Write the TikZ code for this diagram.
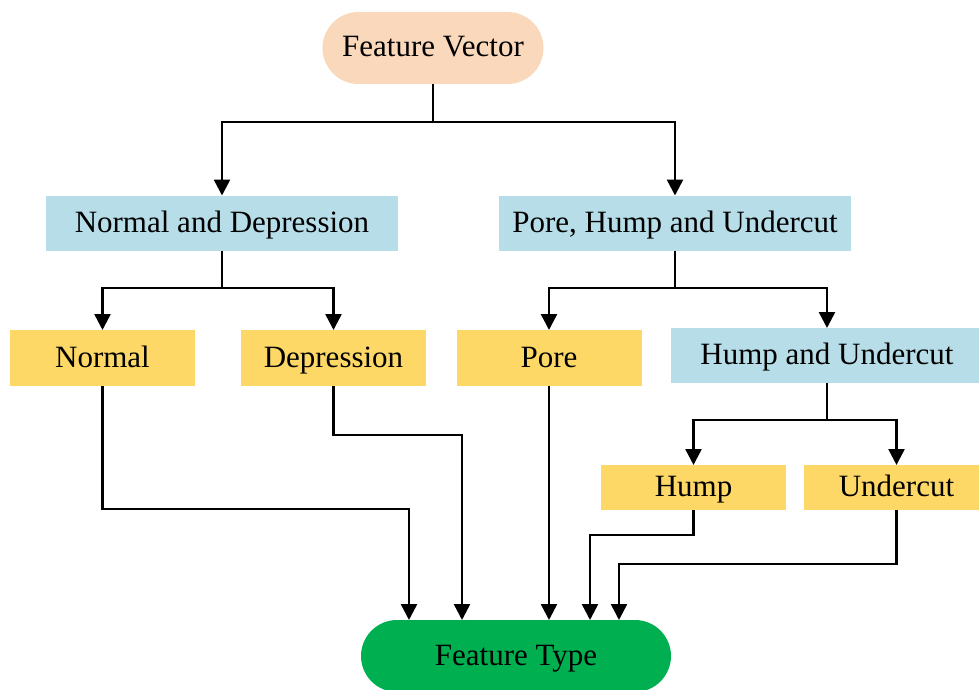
\documentclass[tikz,border=0pt]{standalone}
\usepackage{fontspec}
\setmainfont{Liberation Serif}
\usetikzlibrary{arrows.meta}
\definecolor{peach}{HTML}{F9D8BC}
\definecolor{lblue}{HTML}{B6DDE8}
\definecolor{lyellow}{HTML}{FDD866}
\definecolor{fgreen}{HTML}{00B050}
\begin{document}
\begin{tikzpicture}[x=1pt,y=-1pt,
  every node/.style={font=\fontsize{31}{35}\selectfont, inner sep=0pt, outer sep=0pt, text=black, text height=21pt, text depth=3pt},
  pill/.style={rounded corners=36pt, minimum height=72pt},
  bluebox/.style={fill=lblue, minimum height=55pt},
  yellowbox/.style={fill=lyellow, minimum height=56pt, minimum width=185pt},
  conn/.style={line width=2.5pt, -{Triangle[length=16pt,width=16pt]}},
  plain/.style={line width=2.5pt}]
\useasboundingbox (0,0) rectangle (979,690);
\node[pill, fill=peach, minimum width=221pt] (fv) at (433,48) {Feature Vector};
\node[bluebox, minimum width=352pt] (nd) at (222,223) {Normal and Depression};
\node[bluebox, minimum width=352pt] (phu) at (675,223) {Pore, Hump and Undercut};
\node[yellowbox] (normal) at (102.5,358) {Normal};
\node[yellowbox] (dep) at (333.5,358) {Depression};
\node[yellowbox] (pore) at (549,358) {Pore};
\node[bluebox, minimum width=312pt] (hu) at (827,355.5) {Hump and Undercut};
\node[yellowbox, minimum height=45pt] (hump) at (693.5,487.5) {Hump};
\node[yellowbox, minimum height=45pt] (under) at (896.5,487.5) {Undercut};
\node[pill, fill=fgreen, minimum width=310pt] (ft) at (516,656) {Feature Type};

% top split
\coordinate (s1) at (433,122);
\draw[plain] (fv.south) -- (s1);
\draw[conn] (s1) -| (nd.north);
\draw[conn] (s1) -| (phu.north);
% normal and depression split
\coordinate (s2) at (222,288);
\draw[plain] (nd.south) -- (s2);
\draw[conn] (s2) -| (normal.north);
\draw[conn] (s2) -| (dep.north);
% pore hump undercut split
\coordinate (s3) at (675,288);
\draw[plain] (phu.south) -- (s3);
\draw[conn] (s3) -| (pore.north);
\draw[conn] (s3) -| (hu.north);
% hump and undercut split
\coordinate (s4) at (827,420);
\draw[plain] (hu.south) -- (s4);
\draw[conn] (s4) -| (hump.north);
\draw[conn] (s4) -| (under.north);
% to feature type
\draw[conn] (normal.south) |- (409,509) -- (409,620);
\draw[conn] (dep.south) |- (462,435) -- (462,620);
\draw[conn] (pore.south) -- (549,620);
\draw[conn] (hump.south) -- (693.5,535) -| (590,620);
\draw[conn] (under.south) -- (896.5,564) -| (619,620);
\end{tikzpicture}
\end{document}
